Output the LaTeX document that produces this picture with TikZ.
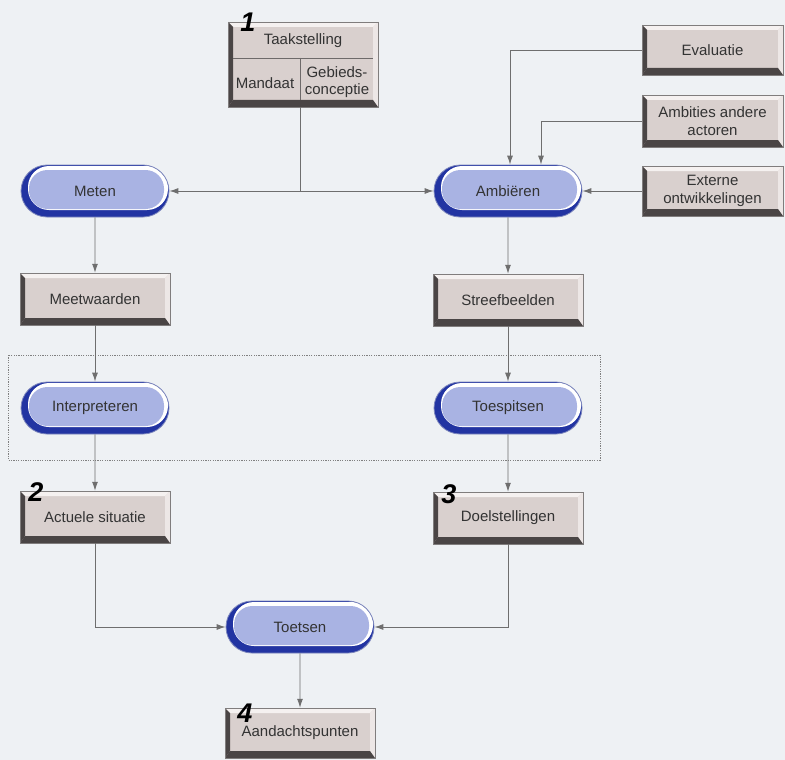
\documentclass[tikz,border=0pt]{standalone}
\usepackage{fontspec}
\setmainfont{Liberation Sans}
\usepackage{tikz}
\usetikzlibrary{arrows.meta}
\usetikzlibrary{shapes.misc}

\definecolor{achtergrond}{HTML}{EEF1F4}
\definecolor{lijngrijs}{HTML}{6E6E6E}
\definecolor{tekstgrijs}{HTML}{333333}
\definecolor{blokvul}{HTML}{D9D0CE}
\definecolor{blokdonker}{HTML}{4A4545}
\definecolor{bloklicht}{HTML}{F5F1F0}
\definecolor{pilvul}{HTML}{A9B3E3}
\definecolor{pildonker}{HTML}{2234A2}
\definecolor{pilrand}{HTML}{7C86BC}

\newcommand{\ppbb}{path picture bounding box}

\begin{document}
\begin{tikzpicture}[x=1pt,y=-1pt,
	lijn/.style={draw=lijngrijs, line width=0.9pt},
	pijl/.style={lijn, -{Latex[length=9pt,width=6pt]}},
	kader/.style={draw=gray, line width=0.7pt, dash pattern=on 1.2pt off 1.2pt},
	deler/.style={draw=blokdonker!80, line width=0.8pt},
	tekst/.style={font=\fontsize{15}{17.5}\selectfont, text=tekstgrijs, align=center, inner sep=1pt},
	nummer/.style={font=\fontsize{27}{27}\selectfont\bfseries\itshape, text=black, inner sep=0pt},
	blok/.style={tekst, rectangle, minimum width=150pt, minimum height=52pt,
		fill=blokvul, draw=blokdonker!70, line width=0.5pt,
		path picture={
			\fill[bloklicht] (\ppbb.north west) -- (\ppbb.north east) -- ([xshift=-5pt,yshift=-5pt]\ppbb.north east) -- ([xshift=5pt,yshift=-5pt]\ppbb.north west) -- cycle;
			\fill[bloklicht!70!blokvul] (\ppbb.north east) -- (\ppbb.south east) -- ([xshift=-5pt,yshift=7pt]\ppbb.south east) -- ([xshift=-5pt,yshift=-5pt]\ppbb.north east) -- cycle;
			\fill[blokdonker] (\ppbb.south west) -- (\ppbb.north west) -- ([xshift=5pt,yshift=-5pt]\ppbb.north west) -- ([xshift=5pt,yshift=7pt]\ppbb.south west) -- cycle;
			\fill[blokdonker] (\ppbb.south west) -- (\ppbb.south east) -- ([xshift=-5pt,yshift=7pt]\ppbb.south east) -- ([xshift=5pt,yshift=7pt]\ppbb.south west) -- cycle;
		}},
	pil/.style={tekst, rounded rectangle, minimum width=150pt, minimum height=52pt,
		fill=pildonker, draw=pilrand, line width=0.8pt,
		path picture={
			\fill[white, rounded corners=21pt] ([xshift=7pt,yshift=7pt]\ppbb.south west) rectangle ([xshift=-1pt,yshift=-1pt]\ppbb.north east);
			\fill[pilvul, rounded corners=18.5pt] ([xshift=8pt,yshift=8pt]\ppbb.south west) rectangle ([xshift=-5pt,yshift=-5pt]\ppbb.north east);
		}}]

	%Achtergrond
	\fill [achtergrond] (0,0) rectangle (785,760);
	\useasboundingbox (0,0) rectangle (785,760);

	%Taakstelling met mandaat en gebiedsconceptie
	\node [blok, minimum height=85pt] (taak) at (303,64.5) {};
	\draw [deler] (233,58) to (373,58);
	\draw [deler] (300,58) to (300,100);
	\node [tekst] (taaktitel) at (303,41) {Taakstelling};
	\node [tekst] (mandaat) at (265,83) {Mandaat};
	\node [tekst] (gebied) at (337,82) {Gebieds-\\conceptie};
	\node [nummer] (nr1) at (248,22) {1};

	%Blokken rechts
	\node [blok, minimum width=141pt, minimum height=50pt] (eval) at (712.5,50) {Evaluatie};
	\node [blok, minimum width=141pt, minimum height=52pt] (ambities) at (712.5,121) {Ambities andere\\actoren};
	\node [blok, minimum width=141pt, minimum height=50pt] (extern) at (712.5,191) {Externe\\ontwikkelingen};

	%Processen
	\node [pil] (meten) at (95,191) {Meten};
	\node [pil] (amb) at (508,191) {Ambiëren};
	\node [pil] (interp) at (95,408) {Interpreteren};
	\node [pil] (toesp) at (508,408) {Toespitsen};
	\node [pil] (toetsen) at (300,627) {Toetsen};

	%Resultaten
	\node [blok] (meetw) at (95,299) {Meetwaarden};
	\node [blok] (streef) at (508,300) {Streefbeelden};
	\node [blok] (actueel) at (95,517) {Actuele situatie};
	\node [blok] (doel) at (508,518) {Doelstellingen};
	\node [blok, minimum height=50pt] (aandacht) at (300,733) {Aandachtspunten};
	\node [nummer] (nr2) at (36,492) {2};
	\node [nummer] (nr3) at (449,494) {3};
	\node [nummer] (nr4) at (245,713) {4};

	%Kader rond interpreteren en toespitsen
	\draw [kader] (8,355) rectangle (600,460);

	%Verbindingen bovenaan
	\coordinate (splits) at (300,191);
	\draw [lijn] (taak.south -| splits) to (splits);
	\draw [pijl] (splits) to (meten.east);
	\draw [pijl] (splits) to (amb.west);
	\draw [pijl] (eval.west) -| ([xshift=2pt]amb.north);
	\draw [pijl] (ambities.west) -| ([xshift=33pt]amb.north);
	\draw [pijl] (extern.west) to (amb.east);

	%Linker kolom
	\draw [pijl] (meten) to (meetw);
	\draw [pijl] (meetw) to (interp);
	\draw [pijl] (interp) to (actueel);
	\draw [pijl] (actueel.south) |- (toetsen.west);

	%Rechter kolom
	\draw [pijl] (amb) to (streef);
	\draw [pijl] (streef) to (toesp);
	\draw [pijl] (toesp) to (doel);
	\draw [pijl] (doel.south) |- (toetsen.east);

	%Toetsen
	\draw [pijl] (toetsen) to (aandacht);
\end{tikzpicture}
\end{document}
